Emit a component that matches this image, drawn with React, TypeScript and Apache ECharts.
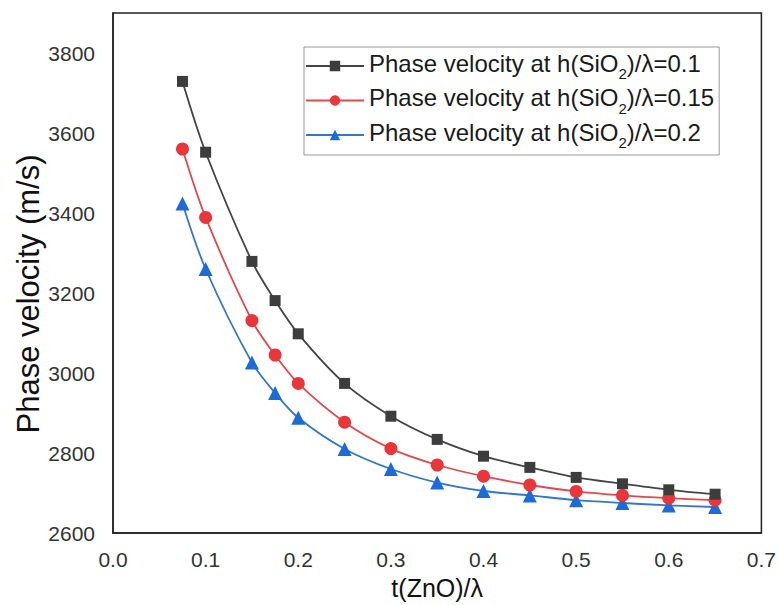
import React, { useEffect, useRef } from "react";
import * as echarts from "echarts";

const xValues = [0.075, 0.1, 0.15, 0.175, 0.2, 0.25, 0.3, 0.35, 0.4, 0.45, 0.5, 0.55, 0.6, 0.65];
const seriesNames = [
  "Phase velocity at h(SiO2)/λ=0.1",
  "Phase velocity at h(SiO2)/λ=0.15",
  "Phase velocity at h(SiO2)/λ=0.2",
];
const velocity01 = [3729, 3552, 3279, 3181, 3098, 2974, 2892, 2834, 2792, 2764, 2739, 2723, 2708, 2697];
const velocity015 = [3560, 3389, 3131, 3045, 2974, 2877, 2811, 2770, 2742, 2720, 2704, 2694, 2687, 2682];
const velocity02 = [3424, 3260, 3026, 2950, 2888, 2810, 2760, 2726, 2705, 2694, 2682, 2675, 2669, 2665];
const yAxisTitle = "Phase velocity (m/s)";
const xAxisTitle = "t(ZnO)/λ";

const FONT = "'Liberation Sans', Arial, sans-serif";

export default function App() {
  const ref = useRef<HTMLDivElement>(null);
  useEffect(() => {
    if (!ref.current) return;
    const chart = echarts.init(ref.current, undefined, { renderer: "svg" });
    const mk = (vals: number[]) => xValues.map((x, i) => [x, vals[i]]);
    const styles = [
      { data: velocity01, color: "#3d3d3d", line: "#444444", symbol: "rect", size: 11 },
      { data: velocity015, color: "#e8363b", line: "#e0494d", symbol: "circle", size: 13 },
      { data: velocity02, color: "#1c6bd6", line: "#3476c9", symbol: "triangle", size: 14 },
    ];
    chart.setOption({
      animation: false,
      backgroundColor: "#ffffff",
      grid: {
        left: 113,
        right: 16,
        top: 13,
        bottom: 67,
        show: true,
        borderColor: "#222",
        borderWidth: 1.5,
        backgroundColor: "transparent",
      },
      graphic: [
        {
          type: "text",
          x: 28,
          y: 294,
          rotation: Math.PI / 2,
          style: {
            text: yAxisTitle,
            font: `31px ${FONT}`,
            fill: "#111",
            textAlign: "center",
            textVerticalAlign: "middle",
          },
        },
      ],
      legend: {
        orient: "vertical",
        left: 304,
        top: 47,
        padding: [4, 5, 5, 1],
        itemGap: 4.5,
        itemWidth: 58,
        itemHeight: 13,
        borderColor: "#999",
        borderWidth: 1,
        borderRadius: 0,
        data: seriesNames,
        formatter: (name: string) => {
          const m = name.match(/^(.*SiO)2(.*)$/);
          if (!m) return name;
          return `{a|${m[1]}}{sub|2}{a|${m[2]}}`;
        },
        textStyle: {
          fontFamily: FONT,
          color: "#1a1a1a",
          fontSize: 24,
          rich: {
            a: { fontFamily: FONT, fontSize: 24, color: "#1a1a1a", lineHeight: 30, verticalAlign: "top" },
            sub: { fontFamily: FONT, fontSize: 15, color: "#1a1a1a", lineHeight: 14, verticalAlign: "bottom" },
          },
        },
      },
      xAxis: {
        type: "value",
        min: 0,
        max: 0.7,
        interval: 0.1,
        name: xAxisTitle,
        nameLocation: "middle",
        nameGap: 42,
        nameTextStyle: { fontFamily: FONT, fontSize: 25, color: "#111", verticalAlign: "top" },
        axisLine: { show: true, lineStyle: { color: "#222", width: 1.5 } },
        axisTick: { show: false },
        splitLine: { show: false },
        axisLabel: {
          fontFamily: FONT,
          fontSize: 21,
          color: "#333",
          margin: 16,
          formatter: (v: number) => v.toFixed(1),
        },
      },
      yAxis: {
        type: "value",
        min: 2600,
        max: 3900,
        interval: 200,
        axisLine: { show: true, lineStyle: { color: "#222", width: 1.5 } },
        axisTick: { show: false },
        splitLine: { show: false },
        axisLabel: {
          fontFamily: FONT,
          fontSize: 21,
          color: "#333",
          margin: 18,
          formatter: (v: number) => (Math.round(v) % 200 === 0 ? String(Math.round(v)) : ""),
        },
      },
      series: styles.map((s, i) => ({
        name: seriesNames[i],
        type: "line",
        data: mk(s.data),
        smooth: 0.3,
        symbol: s.symbol,
        symbolSize: s.size,
        itemStyle: { color: s.color },
        lineStyle: { color: s.line, width: 1.8 },
        z: 3 - i,
      })),
    });
    return () => chart.dispose();
  }, []);
  return (
    <div
      ref={ref}
      style={{ position: "absolute", left: 0, top: 0, width: 779, height: 605, background: "#fff" }}
    />
  );
}
